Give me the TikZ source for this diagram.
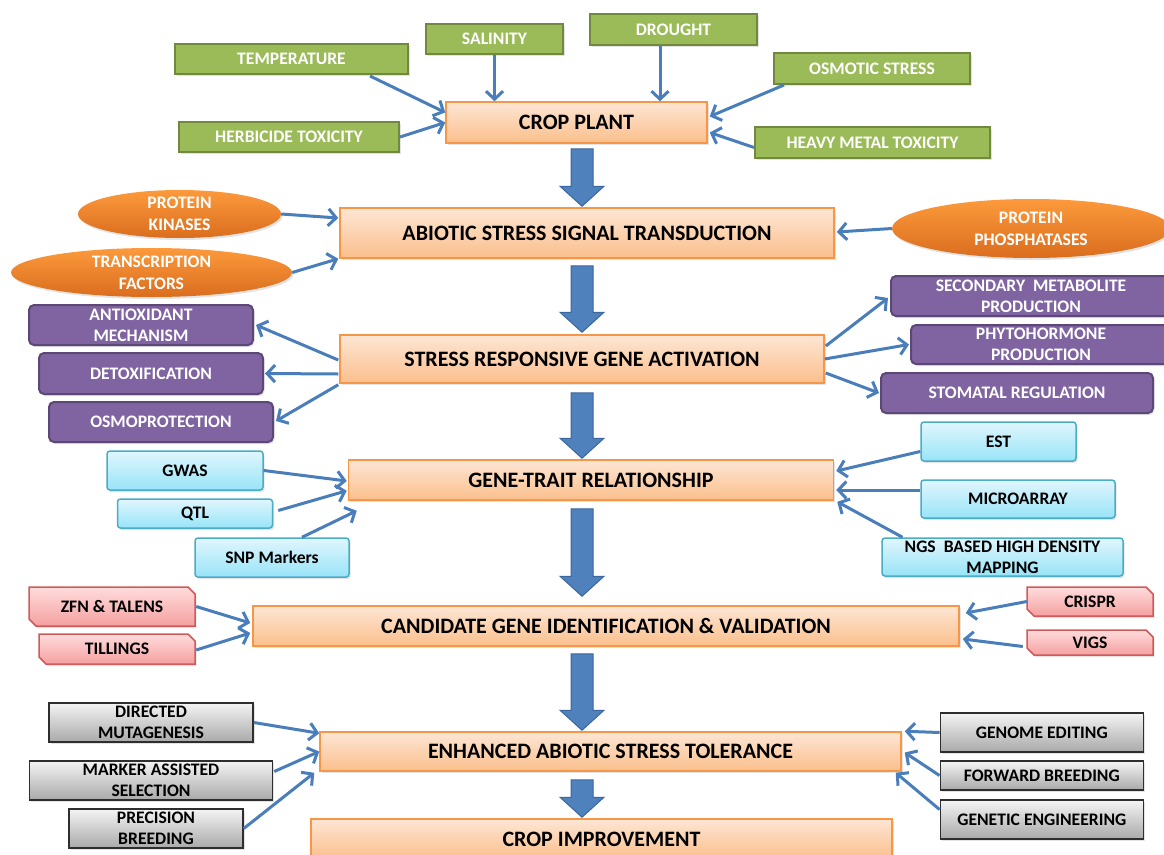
\documentclass[tikz,border=0pt]{standalone}
\usepackage{fontspec}
\setmainfont{Carlito}
\usetikzlibrary{arrows.meta,calc,shapes.geometric,shadows}

\definecolor{linkblue}{HTML}{4A7EBB}
\definecolor{arrowfill}{HTML}{4F81BD}
\definecolor{arrowedge}{HTML}{3A679E}
\definecolor{peachtop}{HTML}{FDE6D4}
\definecolor{peachbot}{HTML}{FBBF8C}
\definecolor{peachedge}{HTML}{F79646}
\definecolor{leaf}{HTML}{9BBB59}
\definecolor{leafedge}{HTML}{71893F}
\definecolor{ovaltop}{HTML}{FC9A3C}
\definecolor{ovalbot}{HTML}{DA6D1E}
\definecolor{plum}{HTML}{8064A2}
\definecolor{plumedge}{HTML}{5C4776}
\definecolor{skytop}{HTML}{E0F6FD}
\definecolor{skybot}{HTML}{98E4F8}
\definecolor{skyedge}{HTML}{4BACC6}
\definecolor{rosetop}{HTML}{FFDCDC}
\definecolor{rosebot}{HTML}{F5A0A0}
\definecolor{roseedge}{HTML}{D05A5A}
\definecolor{greytop}{HTML}{F4F4F4}
\definecolor{greybot}{HTML}{A9A9A9}
\definecolor{greyedge}{HTML}{2E2E2E}

% thick downward block arrow between two stages of the main column
\newcommand\flowarrow[4]{%
  \filldraw[bigarrow]
    ($(#1.south -| axis)+(-11,#3)$) -- ($(#1.south -| axis)+(11,#3)$) --
    ($(#2.north -| axis)+(11,-20-#4)$) -- ($(#2.north -| axis)+(22,-20-#4)$) --
    ($(#2.north -| axis)+(0,-#4)$) --
    ($(#2.north -| axis)+(-22,-20-#4)$) -- ($(#2.north -| axis)+(-11,-20-#4)$) -- cycle;}

% box with snipped top-right and bottom-left corners: name, cx, cy, w, h, text
\newcommand\snipbox[6]{%
  \path[snipfill]
    ({#2-#4/2},{#3-#5/2}) -- ({#2+#4/2-7},{#3-#5/2}) -- ({#2+#4/2},{#3-#5/2+7}) --
    ({#2+#4/2},{#3+#5/2}) -- ({#2-#4/2+7},{#3+#5/2}) -- ({#2-#4/2},{#3+#5/2-7}) -- cycle;
  \node[snipnode, sz={#4}{#5}] (#1) at (#2,#3) {#6};}

\begin{document}
\begin{tikzpicture}[x=1pt, y=-1pt,
  every node/.style={inner sep=0pt, align=center},
  sz/.style 2 args={minimum width=#1, minimum height=#2},
  shadowed/.style={drop shadow={shadow xshift=1.5pt, shadow yshift=-2pt, opacity=0.22}},
  mainbox/.style={rectangle, draw=peachedge, line width=1.5pt,
    top color=peachtop, bottom color=peachbot, shadowed,
    font=\fontsize{22}{24}\selectfont\bfseries},
  small/.style={font=\fontsize{17.6}{21}\selectfont\bfseries},
  factor/.style={rectangle, draw=leafedge, line width=2pt, fill=leaf,
    text=white, small, shadowed},
  oval/.style={ellipse, top color=ovaltop, bottom color=ovalbot, text=white,
    shadowed, font=\fontsize{17.6}{22}\selectfont\bfseries},
  response/.style={rectangle, rounded corners=5pt, draw=plumedge, line width=2pt,
    fill=plum, text=white, small, shadowed},
  tool/.style={rectangle, rounded corners=3pt, draw=skyedge, line width=1.5pt,
    top color=skytop, bottom color=skybot, small, shadowed},
  snipfill/.style={draw=roseedge, line width=1.5pt, top color=rosetop,
    bottom color=rosebot, shadowed},
  snipnode/.style={rectangle, small},
  method/.style={rectangle, draw=greyedge, line width=1.5pt,
    top color=greytop, bottom color=greybot, small, shadowed},
  link/.style={draw=linkblue, line width=3pt,
    -{Straight Barb[length=8pt,width=17pt]}},
  bigarrow/.style={fill=arrowfill, draw=arrowedge, line width=1pt}]

\clip (0,0) rectangle (1164,854);
\fill[white] (0,0) rectangle (1164,854);
\coordinate (axis) at (582,0);

% main column
\node[mainbox, sz={261}{41}] (crop) at (576.5,122.5) {CROP PLANT};
\node[mainbox, sz={494}{50}] (abiotic) at (587,233) {ABIOTIC STRESS SIGNAL TRANSDUCTION};
\node[mainbox, sz={484}{48}] (stress) at (582,359) {STRESS RESPONSIVE GENE ACTIVATION};
\node[mainbox, sz={485}{40}] (genetrait) at (591,480) {GENE-TRAIT RELATIONSHIP};
\node[mainbox, sz={706}{40}] (candidate) at (606,626) {CANDIDATE GENE IDENTIFICATION \& VALIDATION};
\node[mainbox, sz={581}{39}] (enhanced) at (610.5,751.5) {ENHANCED ABIOTIC STRESS TOLERANCE};
\node[mainbox, sz={581}{40}] (improve) at (601.5,839) {CROP IMPROVEMENT};

\flowarrow{crop}{abiotic}{5}{1}
\flowarrow{abiotic}{stress}{7}{2}
\flowarrow{stress}{genetrait}{9}{1}
\flowarrow{genetrait}{candidate}{8}{9}
\flowarrow{candidate}{enhanced}{7}{1}
\flowarrow{enhanced}{improve}{8}{1}

% stress factors acting on the crop
\node[factor, sz={233}{30}] (temp) at (291.5,59) {TEMPERATURE};
\node[factor, sz={137}{30}] (salt) at (494.5,39) {SALINITY};
\node[factor, sz={167}{31}] (drought) at (673.5,29.5) {DROUGHT};
\node[factor, sz={196}{31}] (osmotic) at (872,68.5) {OSMOTIC STRESS};
\node[factor, sz={220}{30}] (herb) at (289,137) {HERBICIDE TOXICITY};
\node[factor, sz={235}{31}] (metal) at (872.5,142.5) {HEAVY METAL TOXICITY};

\draw[link] ($(temp.south)+(78.5,1)$) -- ($(crop.west)+(0,-10)$);
\draw[link] (salt.south) -- (salt.south |- crop.north);
\draw[link] ($(drought.south)+(-13.5,0)$) -- ($(drought.south |- crop.north)+(-13.5,0)$);
\draw[link] ($(osmotic.south west)+(11,0)$) -- ($(crop.east)+(2,-6)$);
\draw[link] ($(metal.west)+(0,5)$) -- ($(crop.east)+(2,10)$);
\draw[link] (herb.east) -- ($(crop.west)+(0,0)$);

% signalling components
\node[oval, sz={203}{48}] (kinase) at (179.5,214) {PROTEIN\\KINASES};
\node[oval, sz={281}{49}] (tf) at (151.5,272.5) {TRANSCRIPTION\\FACTORS};
\node[oval, sz={278}{59}] (phos) at (1031,228.5) {PROTEIN\\PHOSPHATASES};

\draw[link] (kinase.east) -- ($(abiotic.west)+(-1,-15)$);
\draw[link] (tf.east) -- ($(abiotic.south west)+(-1,0)$);
\draw[link] (phos.west) -- ($(abiotic.east)+(2,-1)$);

% responses triggered by gene activation
\node[response, sz={224}{40}] (antiox) at (141,325) {ANTIOXIDANT\\MECHANISM};
\node[response, sz={224}{41}] (detox) at (151,373.5) {DETOXIFICATION};
\node[response, sz={224}{40}] (osmo) at (161,422) {OSMOPROTECTION};
\node[response, sz={280}{40}] (secmet) at (1031,296) {SECONDARY~ METABOLITE\\PRODUCTION};
\node[response, sz={260}{39}] (phyto) at (1041,344.5) {PHYTOHORMONE\\PRODUCTION};
\node[response, sz={272}{40}] (stomata) at (1017,393) {STOMATAL REGULATION};

\draw[link] ($(stress.west)+(-1,1)$) -- ($(antiox.east)+(2,0)$);
\draw[link] ($(stress.west)+(-1,15)$) -- ($(detox.east)+(1,0)$);
\draw[link] ($(stress.south west)+(-1,1)$) -- ($(osmo.east)+(2,-1)$);
\draw[link] ($(stress.east)+(1,-13)$) -- ($(secmet.west)+(-2,2)$);
\draw[link] (stress.east) -- ($(phyto.west)+(-1,0)$);
\draw[link] ($(stress.east)+(1,14)$) -- ($(stomata.west)+(-1,0)$);

% mapping tools
\node[tool, sz={156}{39}] (gwas) at (185,470.5) {GWAS};
\node[tool, sz={155}{29}] (qtl) at (195,513.5) {QTL};
\node[tool, sz={154}{39}] (snp) at (272,557.5) {SNP Markers};
\node[tool, sz={155}{39}] (est) at (998.5,441.5) {EST};
\node[tool, sz={194}{38}] (micro) at (1018,499) {MICROARRAY};
\node[tool, sz={241}{38}] (ngs) at (1002.5,557) {NGS~ BASED HIGH DENSITY\\MAPPING};

\draw[link] (gwas.east) -- ($(genetrait.west)+(-1,1)$);
\draw[link] ($(qtl.east)+(5,-3)$) -- ($(genetrait.south west)+(-1,-10)$);
\draw[link] ($(snp.north)+(30,0)$) -- ($(genetrait.south west)+(9,10)$);
\draw[link] ($(est.west)+(0,10)$) -- ($(genetrait.east)+(2,-9)$);
\draw[link] ($(micro.west)+(0,-9)$) -- ($(genetrait.east)+(2,10)$);
\draw[link] ($(ngs.north)+(-100,0)$) -- ($(genetrait.south east)+(3,1)$);

% validation techniques
\snipbox{zfn}{112}{606.5}{166}{39}{ZFN \& TALENS}
\snipbox{tilling}{117}{649}{156}{30}{TILLINGS}
\snipbox{crispr}{1090}{601.5}{126}{29}{CRISPR}
\snipbox{vigs}{1090}{642.5}{126}{25}{VIGS}

\draw[link] ($(zfn.east)+(1,0)$) -- ($(candidate.west)+(-2,-3)$);
\draw[link] ($(tilling.east)+(1,1)$) -- ($(candidate.west)+(-2,7)$);
\draw[link] ($(crispr.west)+(0,0)$) -- ($(candidate.east)+(6,-13)$);
\draw[link] ($(vigs.west)+(-4,4)$) -- ($(candidate.east)+(3,13)$);

% breeding approaches
\node[method, sz={204}{39}] (mutagen) at (151,722.5) {DIRECTED\\MUTAGENESIS};
\node[method, sz={243}{39}] (mas) at (151,780.5) {MARKER ASSISTED\\SELECTION};
\node[method, sz={174}{39}] (precise) at (156,828.5) {PRECISION\\BREEDING};
\node[method, sz={203}{39}] (editing) at (1041.8,732.5) {GENOME EDITING};
\node[method, sz={203}{29}] (forward) at (1041.8,775.5) {FORWARD BREEDING};
\node[method, sz={203}{39}] (engineer) at (1041.8,819.5) {GENETIC ENGINEERING};

\draw[link] (mutagen.east) -- ($(enhanced.north west)+(0,2)$);
\draw[link] ($(mas.east)+(1,-9)$) -- ($(enhanced.west)+(0,0)$);
\draw[link] (precise.east) -- ($(enhanced.south west)+(-5,1)$);
\draw[link] (editing.west) -- ($(enhanced.north east)+(3,0)$);
\draw[link] (forward.west) -- ($(enhanced.east)+(3,1)$);
\draw[link] ($(engineer.west)+(0,-10)$) -- ($(enhanced.south east)+(-6,1)$);
\end{tikzpicture}
\end{document}
